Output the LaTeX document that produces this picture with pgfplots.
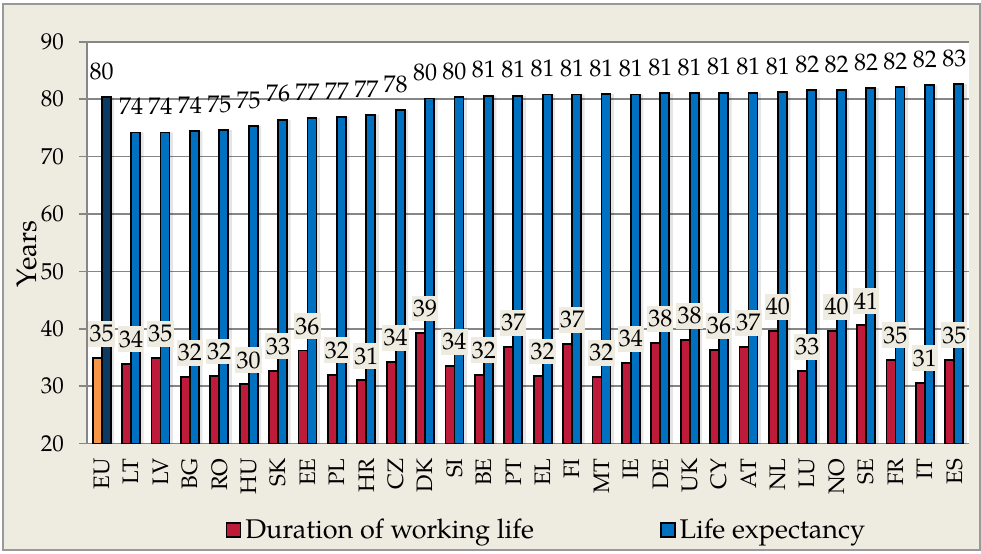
\documentclass[border=0pt]{standalone}
\usepackage{fontspec}
\setmainfont{TeX Gyre Pagella}
\usepackage{pgfplots}
\usepackage{pgfplotstable}
\pgfplotsset{compat=1.18}
\definecolor{bgbeige}{HTML}{EEECE1}
\definecolor{wred}{HTML}{BE1A3A}
\definecolor{lblue}{HTML}{0070C0}
\definecolor{euorange}{HTML}{F79646}
\definecolor{eunavy}{HTML}{0B3A64}
\definecolor{gridgray}{HTML}{868686}

\pgfplotstableread{
x W LE
0 34.9 80.3
1 33.9 74.2
2 34.9 74.2
3 31.6 74.4
4 31.8 74.6
5 30.3 75.3
6 32.7 76.4
7 36.2 76.7
8 32.0 76.9
9 31.0 77.3
10 34.2 78.1
11 39.3 80.1
12 33.5 80.3
13 32.0 80.6
14 36.8 80.6
15 31.8 80.8
16 37.3 80.8
17 31.6 80.9
18 34.0 80.8
19 37.5 81.0
20 38.0 81.0
21 36.3 81.1
22 36.8 81.1
23 39.6 81.2
24 32.6 81.6
25 39.6 81.6
26 40.6 81.9
27 34.6 82.1
28 30.6 82.4
29 34.6 82.6
}\alltable

\pgfplotstableread{
x W LE
0 34.9 80.3
}\eutable

\pgfplotstableread{
x W LE
1 33.9 74.2
2 34.9 74.2
3 31.6 74.4
4 31.8 74.6
5 30.3 75.3
6 32.7 76.4
7 36.2 76.7
8 32.0 76.9
9 31.0 77.3
10 34.2 78.1
11 39.3 80.1
12 33.5 80.3
13 32.0 80.6
14 36.8 80.6
15 31.8 80.8
16 37.3 80.8
17 31.6 80.9
18 34.0 80.8
19 37.5 81.0
20 38.0 81.0
21 36.3 81.1
22 36.8 81.1
23 39.6 81.2
24 32.6 81.6
25 39.6 81.6
26 40.6 81.9
27 34.6 82.1
28 30.6 82.4
29 34.6 82.6
}\ctable

\begin{document}
\begin{tikzpicture}[font=\fontsize{11.5}{13}\selectfont]
\useasboundingbox (0,0) rectangle (490.5pt,276.5pt);
\draw[fill=bgbeige, draw=black!40, line width=1pt] (1.5pt,1.5pt) rectangle (490pt,274.5pt);
\begin{axis}[
  at={(43.5pt,54.75pt)}, anchor=south west,
  scale only axis, width=441pt, height=200.9pt,
  xmin=-0.5, xmax=29.5, ymin=20, ymax=90,
  ytick={20,30,...,90},
  xtick={0,...,29},
  xticklabels={EU,LT,LV,BG,RO,HU,SK,EE,PL,HR,CZ,DK,SI,BE,PT,EL,FI,MT,IE,DE,UK,CY,AT,NL,LU,NO,SE,FR,IT,ES},
  x tick label style={rotate=90, anchor=east, font=\fontsize{11.2}{13}\selectfont},
  y tick label style={font=\fontsize{11.5}{13}\selectfont, xshift=-4pt},
  /pgf/number format/assume math mode=true,
  axis x line*=bottom, axis y line*=left,
  axis line style={gridgray, line width=0.8pt, -},
  ymajorgrids, major grid style={gridgray, line width=0.8pt},
  tick align=outside, major tick length=4pt,
  x tick style={draw=none}, y tick style={gridgray, line width=0.8pt},
  axis background/.style={fill=white},
  ylabel={Years},
  ylabel style={at={(axis description cs:-0.068,0.472)}, anchor=center, font=\fontsize{14}{16}\selectfont},
  legend style={at={(0.522,-0.2153)}, anchor=center, legend columns=2, draw=none, fill=none,
    font=\fontsize{13.5}{15}\selectfont,
    /tikz/every even column/.append style={column sep=61pt}},
  clip=false,
]
% shadows
\addplot[ybar, bar width=4.5pt, bar shift=4pt, draw=none, fill=black, fill opacity=0.10, forget plot]
  table[x=x, y=LE] {\alltable};
% EU bars
\addplot[ybar, bar width=4.5pt, bar shift=-2.25pt, fill=euorange, draw=black, line width=0.9pt, forget plot]
  table[x=x, y=W] {\eutable};
\addplot[ybar, bar width=4.5pt, bar shift=2.25pt, fill=eunavy, draw=black, line width=0.9pt, forget plot]
  table[x=x, y=LE] {\eutable};
% country bars
\addplot[ybar, bar width=4.5pt, bar shift=-2.25pt, fill=wred, draw=black, line width=0.9pt,
  legend image code/.code={\draw[fill=wred, draw=black, line width=0.8pt] (0pt,-3.5pt) rectangle (7pt,3.5pt);}]
  table[x=x, y=W] {\ctable};
\addlegendentry{Duration of working life}
\addplot[ybar, bar width=4.5pt, bar shift=2.25pt, fill=lblue, draw=black, line width=0.9pt,
  legend image code/.code={\draw[fill=lblue, draw=black, line width=0.8pt] (0pt,-3.5pt) rectangle (7pt,3.5pt);}]
  table[x=x, y=LE] {\ctable};
\addlegendentry{Life expectancy}
% labels for life expectancy
\addplot[ybar, bar width=4.5pt, bar shift=2.25pt, draw=none, fill=none, forget plot,
  nodes near coords={\pgfmathprintnumber[fixed, precision=0]{\pgfplotspointmeta}},
  every node near coord/.append style={anchor=south, yshift=8.5pt, text=black, inner sep=0pt,
    font=\fontsize{12}{14}\selectfont}]
  table[x=x, y=LE] {\alltable};
% labels for working life
\addplot[ybar, bar width=4.5pt, bar shift=-2.25pt, draw=none, fill=none, forget plot,
  nodes near coords={\pgfmathprintnumber[fixed, precision=0]{\pgfplotspointmeta}},
  every node near coord/.append style={anchor=south, yshift=5.5pt, text=black, fill=bgbeige,
    inner xsep=0.6pt, inner ysep=2.2pt, font=\fontsize{12}{14}\selectfont}]
  table[x=x, y=W] {\alltable};
\end{axis}
\end{tikzpicture}
\end{document}
